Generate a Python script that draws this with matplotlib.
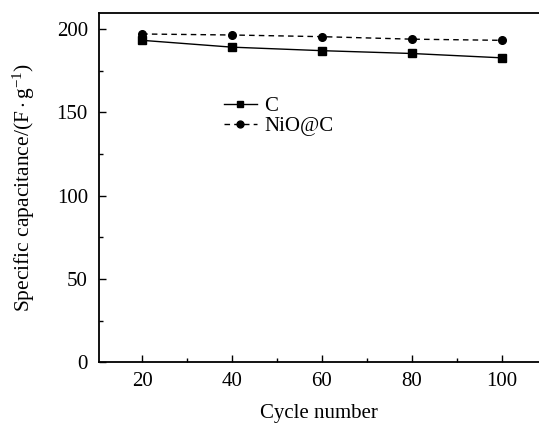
import matplotlib
matplotlib.use("Agg")
import matplotlib.pyplot as plt
from matplotlib.ticker import MultipleLocator

plt.rcParams['font.family'] = ['Liberation Serif', 'DejaVu Serif']
plt.rcParams['mathtext.fontset'] = 'custom'
plt.rcParams['mathtext.rm'] = 'Liberation Serif'
plt.rcParams['mathtext.it'] = 'Liberation Serif:italic'

cycles = [20, 40, 60, 80, 100]
c_values = [193.2, 189.1, 187.0, 185.3, 182.7]
nioc_values = [197.0, 196.4, 195.4, 193.9, 193.2]
series_labels = ['C', 'NiO@C']

fig = plt.figure(figsize=(5.39, 4.23), dpi=100)
ax = fig.add_axes([99 / 539, (423 - 362.3) / 423, 1 - 99 / 539, (362.3 - 13) / 423])

ax.plot(cycles, c_values, '-', color='black', marker='s', markersize=5.5, linewidth=1.0,
        label=series_labels[0])
ax.plot(cycles, nioc_values, color='black', marker='o', markersize=5.5, linewidth=1.0,
        linestyle=(0, (4, 3)), label=series_labels[1])

ax.set_xlim(10.4, 108.3)
ax.set_ylim(0, 209.6)
ax.xaxis.set_major_locator(MultipleLocator(20))
ax.xaxis.set_minor_locator(MultipleLocator(10))
ax.yaxis.set_major_locator(MultipleLocator(50))
ax.yaxis.set_minor_locator(MultipleLocator(25))
ax.tick_params(which='both', direction='in', labelsize=15, width=1.0)
ax.tick_params(which='major', length=5)
ax.tick_params(which='minor', length=3)
ax.tick_params(axis='x', pad=7)
ax.tick_params(axis='y', pad=8)
ax.spines['right'].set_visible(False)
for s in ['left', 'bottom', 'top']:
    ax.spines[s].set_linewidth(1.3)

ax.set_xlabel('Cycle number', fontsize=15, labelpad=9)
ax.set_ylabel(r'Specific capacitance/$(\mathrm{F\cdot g^{-1}})$', fontsize=15.5, labelpad=14)

leg = ax.legend(loc='upper left', bbox_to_anchor=(0.26, 0.79), frameon=False, fontsize=15,
                handlelength=1.6, handletextpad=0.35, labelspacing=0.0, borderpad=0,
                markerscale=0.9)

fig.savefig('out.png', dpi=100)
